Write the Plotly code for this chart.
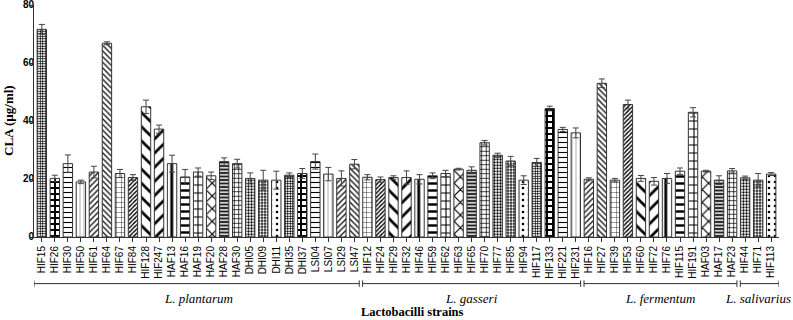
import plotly.graph_objects as go

# ---------------- data ----------------
strains = [
    "HIF15", "HIF26", "HIF30", "HIF50", "HIF61", "HIF64", "HIF67", "HIF84", "HIF128", "HIF247",
    "HAF13", "HAF16", "HAF19", "HAF20", "HAF28", "HAF30", "DHI05", "DHI09", "DHI11", "DHI35",
    "DHI37", "LSI04", "LSI07", "LSI29", "LSI47",
    "HIF12", "HIF24", "HIF29", "HIF32", "HIF46", "HIF59", "HIF62", "HIF63", "HIF65", "HIF70",
    "HIF77", "HIF85", "HIF94", "HIF117", "HIF133", "HIF221", "HIF231",
    "HIF16", "HIF27", "HIF39", "HIF53", "HIF60", "HIF72", "HIF76", "HIF115", "HIF191", "HAF03",
    "HAF17", "HAF23",
    "HIF44", "HIF71", "HIF113",
]
cla = [
    71.6, 20.2, 25.3, 19.0, 22.4, 66.8, 21.9, 20.5, 44.9, 37.2,
    25.3, 20.7, 22.4, 21.1, 26.0, 25.3, 20.2, 19.6, 19.6, 21.3,
    21.9, 26.0, 21.7, 20.2, 25.1,
    20.6, 19.8, 20.5, 20.5, 19.9, 21.1, 21.9, 23.4, 23.0, 32.5,
    28.2, 26.2, 19.6, 25.7, 44.3, 37.1, 35.9,
    19.9, 53.0, 19.6, 45.7, 20.2, 19.2, 20.2, 22.7, 43.0, 22.7,
    19.6, 22.8,
    20.4, 19.6, 21.7,
]
sd = [
    1.7, 1.1, 3.0, 0.6, 2.0, 0.5, 1.4, 1.0, 2.3, 1.4,
    2.9, 2.6, 1.4, 1.3, 1.3, 1.5, 1.9, 3.4, 3.1, 0.8,
    1.7, 2.6, 2.3, 2.6, 1.6,
    0.9, 0.9, 0.6, 2.3, 1.6, 1.0, 1.1, 0.3, 1.2, 0.8,
    0.7, 1.6, 1.5, 1.4, 0.8, 0.7, 1.7,
    0.5, 1.5, 0.6, 1.5, 1.0, 1.3, 1.7, 1.1, 1.6, 0.3,
    1.5, 0.8,
    0.6, 2.3, 0.5,
]
groups = ["L. plantarum", "L. gasseri", "L. fermentum", "L. salivarius"]
group_sizes = [25, 17, 12, 3]
y_ticks = [0, 20, 40, 60, 80]
y_max = 80

# ---------------- pattern styles (cycle of 19) ----------------
# (shape, size, solidity, bg, fg)
styles = [
    ("+", 2.5, 0.5, "white", "black"),    # fine checker
    ("+", 6, 0.55, "white", "black"),     # large checker
    ("-", 5, 0.22, "white", "black"),     # thin horizontal
    ("|", 4, 0.12, "white", "#555"),      # thin vertical
    ("/", 4, 0.3, "white", "black"),      # fine /
    ("\\", 4, 0.3, "white", "black"),     # fine \
    ("+", 5, 0.15, "white", "black"),     # thin grid
    ("/", 3, 0.45, "white", "black"),     # hatched
    ("\\", 10, 0.28, "white", "black"),   # thick \
    ("/", 10, 0.28, "white", "black"),    # thick /
    ("|", 9.5, 0.3, "white", "black"),    # thick vertical
    ("-", 7, 0.35, "white", "black"),     # thick horizontal
    ("+", 8, 0.25, "white", "black"),     # thick grid
    ("x", 9, 0.25, "white", "black"),     # thick X
    ("-", 3.5, 0.4, "#222", "white"),     # dark brick
    ("+", 4.5, 0.3, "white", "black"),    # brick
    (".", 3, 0.45, "white", "black"),     # dots
    (".", 3, 0.45, "#222", "white"),      # dark dots
    (".", 6, 0.15, "white", "black"),     # sparse dots
]
n = len(strains)
st = [styles[i % len(styles)] for i in range(n)]

fig = go.Figure()
fig.add_trace(go.Bar(
    x=list(range(n)),
    y=cla,
    width=0.72,
    marker=dict(
        color="white",
        line=dict(color="#333", width=1),
        pattern=dict(
            shape=[s[0] for s in st],
            size=[s[1] for s in st],
            solidity=[s[2] for s in st],
            bgcolor=[s[3] for s in st],
            fgcolor=[s[4] for s in st],
            fillmode="replace",
        ),
    ),
    error_y=dict(type="data", array=sd, visible=True, color="#444",
                 thickness=1, width=3),
    showlegend=False,
    hoverinfo="skip",
))

# y tick labels drawn as an unclipped text trace sitting on the y axis
fig.add_trace(go.Scatter(
    x=[-0.6] * len(y_ticks),
    y=y_ticks,
    mode="text",
    text=[f"<b>{v}</b>" for v in y_ticks],
    textposition="middle left",
    textfont=dict(size=10, family="Liberation Sans, Arial", color="black"),
    cliponaxis=False,
    showlegend=False,
    hoverinfo="skip",
))

fig.update_layout(
    width=793, height=320,
    margin=dict(l=34, r=14, t=5, b=83),
    paper_bgcolor="white", plot_bgcolor="white",
    font=dict(family="Liberation Sans, Arial", color="black"),
)
fig.update_xaxes(
    range=[-0.6, n - 0.4],
    tickmode="array", tickvals=list(range(n)), ticktext=strains,
    tickangle=-90, tickfont=dict(size=10, family="Liberation Sans, Arial"),
    ticks="outside", ticklen=4, tickwidth=1, tickcolor="#333",
    showline=True, linecolor="#333", linewidth=1,
    showgrid=False, zeroline=False, automargin=False,
)
fig.update_yaxes(
    range=[0, y_max],
    tickmode="array", tickvals=y_ticks, showticklabels=False,
    ticks="outside", ticklen=4, tickwidth=1, tickcolor="#333",
    showline=True, linecolor="#333", linewidth=1,
    showgrid=False, zeroline=False, automargin=False,
)

# y-axis title
fig.add_annotation(
    text="<b>CLA (µg/ml)</b>", xref="paper", yref="paper",
    x=0, y=0.5, xshift=-26, textangle=-90, showarrow=False,
    xanchor="center", yanchor="middle",
    font=dict(size=13, family="Liberation Serif, Times New Roman"),
)

# group brackets and labels
plot_h = 320 - 5 - 83
br_y = -46.6 / plot_h
tick_h = 3.2 / plot_h
start = 0
edges = []
for g, size in zip(groups, group_sizes):
    lo = start - 0.5
    hi = start + size - 0.5
    edges.append((lo, hi))
    start += size
gap = 0.13
for k, (g, (lo, hi)) in enumerate(zip(groups, edges)):
    x0 = -0.6 if k == 0 else lo + gap
    x1 = n - 0.4 if k == len(groups) - 1 else hi - gap
    fig.add_shape(type="line", xref="x", yref="paper", x0=x0, x1=x1, y0=br_y, y1=br_y,
                  line=dict(color="#333", width=1))
    for xe in (x0, x1):
        fig.add_shape(type="line", xref="x", yref="paper", x0=xe, x1=xe,
                      y0=br_y - tick_h, y1=br_y + tick_h, line=dict(color="#333", width=1))
    fig.add_annotation(
        text=f"<i>{g}</i>", xref="x", yref="paper", x=(lo + hi) / 2, y=0,
        yshift=-61.5, showarrow=False, xanchor="center", yanchor="middle",
        font=dict(size=13, family="Liberation Serif, Times New Roman"),
    )

fig.add_annotation(
    text="<b>Lactobacilli strains</b>", xref="paper", yref="paper",
    x=0, xshift=412 - 34, y=0, yshift=-74.5, showarrow=False,
    xanchor="center", yanchor="middle",
    font=dict(size=12.5, family="Liberation Serif, Times New Roman"),
)

fig.write_html(
    "out.html",
    config={"displayModeBar": False},
    post_script="document.body.style.margin='0';document.body.style.padding='0';",
)
